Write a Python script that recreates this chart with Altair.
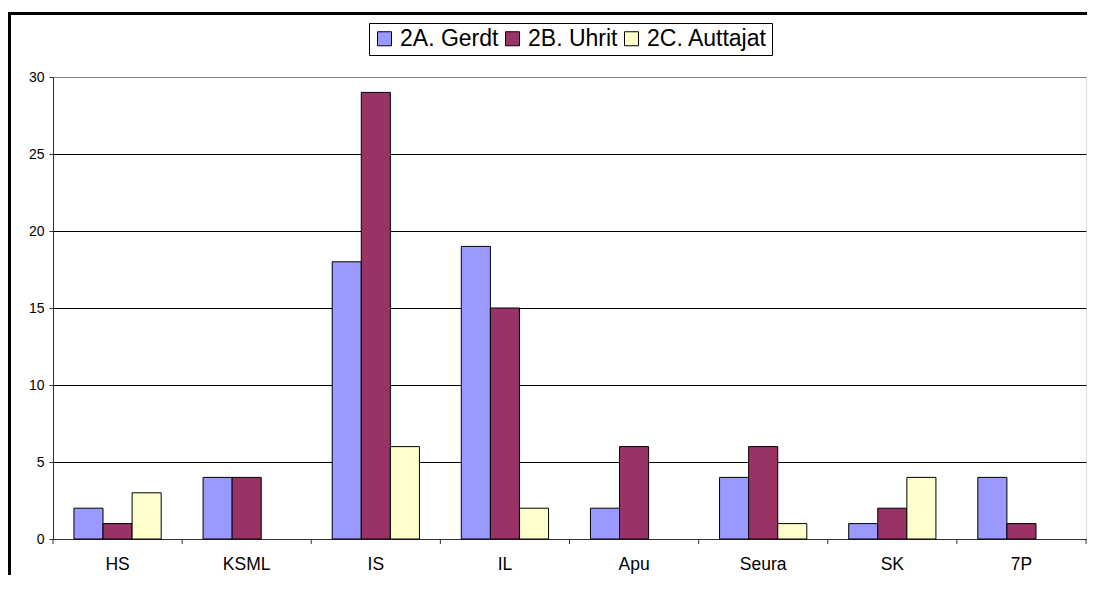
import altair as alt
import pandas as pd

categories = ["HS", "KSML", "IS", "IL", "Apu", "Seura", "SK", "7P"]
series = ["2A. Gerdt", "2B. Uhrit", "2C. Auttajat"]
gerdt = [2, 4, 18, 19, 2, 4, 1, 4]
uhrit = [1, 4, 29, 15, 6, 6, 2, 1]
auttajat = [3, 0, 6, 2, 0, 1, 4, 0]
colors = ["#9999FF", "#993366", "#FFFFCC"]
y_ticks = [0, 5, 10, 15, 20, 25, 30]

rows = []
for s, vals in zip(series, [gerdt, uhrit, auttajat]):
    for c, v in zip(categories, vals):
        rows.append({"cat": c, "series": s, "value": v})
df = pd.DataFrame(rows)
cat_df = pd.DataFrame({"cat": categories})

W, H = 1033, 462
FONT = "Liberation Sans"
AXIS_COLOR = "#333333"

x_enc = alt.X("cat:N", sort=categories, title=None,
              scale=alt.Scale(paddingInner=0, paddingOuter=0),
              axis=alt.Axis(labelFontSize=17.5, labelFont=FONT, labelColor="black",
                            ticks=False, labelPadding=16, domainColor=AXIS_COLOR,
                            labelAngle=0))

bars = alt.Chart(df).transform_filter(alt.datum.value > 0).mark_bar(
    stroke="black", strokeWidth=1, opacity=1
).encode(
    x=x_enc,
    xOffset=alt.XOffset("series:N", sort=series,
                        scale=alt.Scale(paddingInner=0, paddingOuter=0.72)),
    y=alt.Y("value:Q", title=None,
            scale=alt.Scale(domain=[0, 30], nice=False),
            axis=alt.Axis(values=y_ticks, labelFontSize=14, labelFont=FONT,
                          labelColor="black", tickColor=AXIS_COLOR, tickSize=4,
                          labelPadding=5, domainColor=AXIS_COLOR,
                          grid=True,
                          gridColor=alt.condition(alt.datum.value == 30,
                                                  alt.value("#808080"),
                                                  alt.value("black")))),
    color=alt.Color("series:N", sort=series,
                    scale=alt.Scale(domain=series, range=colors),
                    legend=alt.Legend(title=None, orient="none", legendX=316,
                                      legendY=-54, direction="horizontal",
                                      strokeColor="black", fillColor="white",
                                      padding=4, symbolOffset=0, symbolType="square",
                                      symbolSize=196, symbolStrokeColor="black",
                                      symbolStrokeWidth=1, symbolOpacity=1,
                                      labelFontSize=23, labelFont=FONT,
                                      labelColor="black", columnPadding=2,
                                      labelOffset=4, cornerRadius=0)),
)

ticks = alt.Chart(cat_df).mark_rule(color=AXIS_COLOR, strokeWidth=1).encode(
    x=alt.X("cat:N", sort=categories, bandPosition=0),
    y=alt.value(H), y2=alt.value(H + 5),
)
end_tick = alt.Chart(cat_df.head(1)).mark_rule(color=AXIS_COLOR, strokeWidth=1).encode(
    x=alt.value(W), y=alt.value(H), y2=alt.value(H + 5),
)

border = alt.Chart(cat_df.head(1)).mark_rect(
    fill=None, stroke="black", strokeWidth=3, clip=False
).encode(
    x=alt.value(-43.5), x2=alt.value(W + 60), y=alt.value(-63.5), y2=alt.value(H + 100)
)

chart = alt.layer(bars, ticks, end_tick, border).properties(
    width=W, height=H,
    autosize=alt.AutoSizeParams(type="none"),
    padding={"left": 45, "top": 69, "right": 1, "bottom": 36},
).configure_view(stroke="#808080", strokeWidth=1).configure(background="white")

chart.save("out.html", embed_options={"renderer": "svg", "actions": False})
